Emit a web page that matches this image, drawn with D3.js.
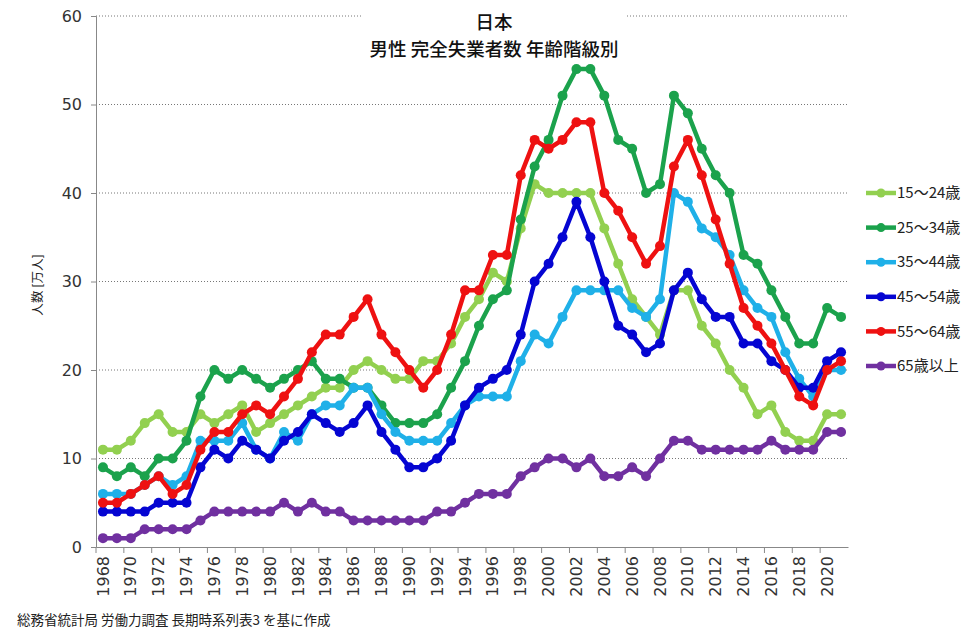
<!DOCTYPE html>
<html>
<head>
<meta charset="utf-8">
<script src="https://cdn.jsdelivr.net/npm/d3@7"></script>
<style>
  body { margin: 0; background: #fff; }
  svg text { font-family: "Noto Sans CJK JP", "Noto Sans", sans-serif; }
</style>
</head>
<body>
<div id="chart"></div>
<script>
// years 1968 - 2021
const years = d3.range(1968, 2022);

const age15to24 = [11,11,12,14,15,13,13,15,14,15,16,13,14,15,16,17,18,18,20,21,20,19,19,21,21,23,26,28,31,30,36,41,40,40,40,40,36,32,28,26,24,29,29,25,23,20,18,15,16,13,12,12,15,15];
const age25to34 = [9,8,9,8,10,10,12,17,20,19,20,19,18,19,20,21,19,19,18,18,16,14,14,14,15,18,21,25,28,29,37,43,46,51,54,54,51,46,45,40,41,51,49,45,42,40,33,32,29,26,23,23,27,26];
const age35to44 = [6,6,6,7,8,7,8,12,12,12,14,11,10,13,12,15,16,16,18,18,15,13,12,12,12,14,16,17,17,17,21,24,23,26,29,29,29,29,27,26,28,40,39,36,35,33,29,27,26,22,19,17,20,20];
const age45to54 = [4,4,4,4,5,5,5,9,11,10,12,11,10,12,13,15,14,13,14,16,13,11,9,9,10,12,16,18,19,20,24,30,32,35,39,35,30,25,24,22,23,29,31,28,26,26,23,23,21,20,18,18,21,22];
const age55to64 = [5,5,6,7,8,6,7,11,13,13,15,16,15,17,19,22,24,24,26,28,24,22,20,18,20,24,29,29,33,33,42,46,45,46,48,48,40,38,35,32,34,43,46,42,37,32,27,25,23,20,17,16,20,21];
const age65plus = [1,1,1,2,2,2,2,3,4,4,4,4,4,5,4,5,4,4,3,3,3,3,3,3,4,4,5,6,6,6,8,9,10,10,9,10,8,8,9,8,10,12,12,11,11,11,11,11,12,11,11,11,13,13];

const seriesNames = ["15～24歳", "25～34歳", "35～44歳", "45～54歳", "55～64歳", "65歳以上"];
const seriesColors = ["#92d050", "#1ba24c", "#1fb0e8", "#0505d2", "#ee1111", "#7030a0"];
const seriesValues = [age15to24, age25to34, age35to44, age45to54, age55to64, age65plus];
const yTicks = [0, 10, 20, 30, 40, 50, 60];

const width = 978, height = 639;
const margin = {top: 16, right: 130, bottom: 92, left: 96};

const svg = d3.select("#chart").append("svg")
    .attr("width", width)
    .attr("height", height);

const x = d3.scaleBand()
    .domain(years)
    .range([margin.left, width - margin.right])
    .padding(0);

const y = d3.scaleLinear()
    .domain([0, 60])
    .range([height - margin.bottom, margin.top]);

const cx = d => x(d) + x.bandwidth() / 2;

// gridlines
svg.append("g")
    .selectAll("line")
    .data(yTicks.filter(t => t > 0))
    .join("line")
    .attr("x1", margin.left)
    .attr("x2", width - margin.right)
    .attr("y1", d => y(d))
    .attr("y2", d => y(d))
    .attr("stroke", "#777")
    .attr("stroke-width", 1)
    .attr("stroke-dasharray", "1,2");

// y axis
const yAxis = svg.append("g")
    .attr("transform", `translate(${margin.left},0)`)
    .call(d3.axisLeft(y).tickValues(yTicks).tickSize(5).tickPadding(9));
yAxis.select(".domain").attr("stroke", "#888");
yAxis.selectAll(".tick line").attr("stroke", "#888");
yAxis.selectAll(".tick text")
    .attr("font-size", 16)
    .attr("fill", "#333")
    .style("font-family", "'DejaVu Sans', sans-serif");

// x axis (ticks between categories, every 2 years)
const xAxis = svg.append("g")
    .attr("transform", `translate(0,${y(0)})`)
    .call(d3.axisBottom(x).tickValues(years.filter(d => d % 2 === 0)).tickSize(0).tickPadding(0));
xAxis.select(".domain").attr("stroke", "#888");
xAxis.selectAll(".tick").append("line")
    .attr("x1", -x.bandwidth() / 2)
    .attr("x2", -x.bandwidth() / 2)
    .attr("y1", 0)
    .attr("y2", 6)
    .attr("stroke", "#888");
xAxis.selectAll(".tick text")
    .attr("transform", "rotate(-90)")
    .attr("text-anchor", "end")
    .attr("x", -9)
    .attr("y", 0)
    .attr("dy", "0.35em")
    .attr("font-size", 16)
    .attr("fill", "#333")
    .style("font-family", "'DejaVu Sans', sans-serif");

// lines and markers
const line = d3.line()
    .x((d, i) => cx(years[i]))
    .y(d => y(d));

seriesValues.forEach((vals, k) => {
    const g = svg.append("g");
    g.append("path")
        .datum(vals)
        .attr("d", line)
        .attr("fill", "none")
        .attr("stroke", seriesColors[k])
        .attr("stroke-width", 4.5)
        .attr("stroke-linejoin", "round");
    g.selectAll("circle")
        .data(vals)
        .join("circle")
        .attr("cx", (d, i) => cx(years[i]))
        .attr("cy", d => y(d))
        .attr("r", 5)
        .attr("fill", seriesColors[k]);
});

// title with white box
const titleX = 494;
svg.append("rect")
    .attr("x", 362)
    .attr("y", 8)
    .attr("width", 265)
    .attr("height", 56)
    .attr("fill", "#fff");
svg.append("text")
    .attr("x", titleX)
    .attr("y", 29)
    .attr("text-anchor", "middle")
    .attr("font-size", 18.5)
    .attr("font-weight", 500)
    .attr("fill", "#111")
    .text("日本");
svg.append("text")
    .attr("x", titleX)
    .attr("y", 56)
    .attr("text-anchor", "middle")
    .attr("font-size", 18.5)
    .attr("font-weight", 500)
    .attr("fill", "#111")
    .text("男性 完全失業者数 年齢階級別");

// legend
const legend = svg.append("g")
    .attr("transform", "translate(866,193)");
seriesNames.forEach((name, k) => {
    const item = legend.append("g")
        .attr("transform", `translate(0,${k * 34.6})`);
    item.append("line")
        .attr("x1", 0).attr("x2", 30)
        .attr("stroke", seriesColors[k])
        .attr("stroke-width", 4.5);
    item.append("circle")
        .attr("cx", 15)
        .attr("r", 4.5)
        .attr("fill", seriesColors[k]);
    item.append("text")
        .attr("x", 31)
        .attr("dy", "0.35em")
        .attr("font-size", 15)
        .attr("fill", "#222")
        .text(name);
});

// y axis title
svg.append("text")
    .attr("transform", "translate(42,285) rotate(-90)")
    .attr("text-anchor", "middle")
    .attr("font-size", 12.5)
    .attr("fill", "#222")
    .text("人数 [万人]");

// source note
svg.append("text")
    .attr("x", 17)
    .attr("y", 625)
    .attr("font-size", 13.5)
    .attr("fill", "#222")
    .text("総務省統計局 労働力調査  長期時系列表3  を基に作成");
</script>
</body>
</html>
